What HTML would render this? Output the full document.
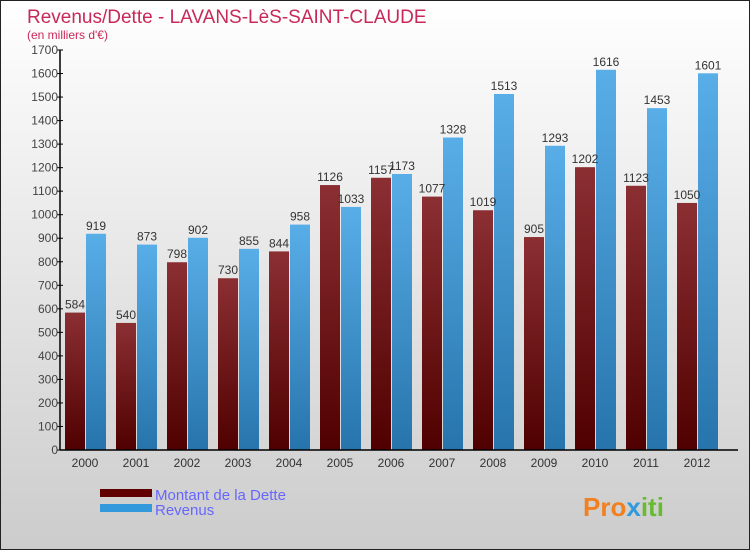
<!DOCTYPE html>
<html><head><meta charset="utf-8"><style>
body{margin:0}
#c{width:748px;height:548px;border:1px solid #222;position:relative;background:linear-gradient(#fff,#ccc);font-family:"Liberation Sans",sans-serif;overflow:hidden}
</style></head><body>
<div id="c">
<svg id="s" width="748" height="548" xmlns="http://www.w3.org/2000/svg">
<defs>
<linearGradient id="gd" x1="0" y1="0" x2="0" y2="1"><stop offset="0" stop-color="#8b2f33"/><stop offset="1" stop-color="#500000"/></linearGradient>
<linearGradient id="gr" x1="0" y1="0" x2="0" y2="1"><stop offset="0" stop-color="#59aee8"/><stop offset="1" stop-color="#2774ac"/></linearGradient>
</defs>
<text x="26" y="22" font-size="19" fill="#c8285a">Revenus/Dette - LAVANS-LèS-SAINT-CLAUDE</text>
<text x="26" y="38" font-size="12" fill="#c8285a">(en milliers d'€)</text>
<g id="bars"></g>
<g id="axes"></g>
<rect x="99" y="488" width="52" height="8" fill="#600000"/>
<rect x="99" y="503" width="52" height="8" fill="#3399dd"/>
<text x="154" y="499" font-size="15" fill="#6666ff">Montant de la Dette</text>
<text x="154" y="514" font-size="15" fill="#6666ff">Revenus</text>
<text x="582" y="515" font-size="26" font-weight="bold" fill="#f08020">Pro<tspan fill="#3399dd">x</tspan><tspan fill="#66bb33">iti</tspan></text>
</svg>
</div>
<script>
const categories=["2000","2001","2002","2003","2004","2005","2006","2007","2008","2009","2010","2011","2012"];
const dette=[584,540,798,730,844,1126,1157,1077,1019,905,1202,1123,1050];
const revenus=[919,873,902,855,958,1033,1173,1328,1513,1293,1616,1453,1601];
const yTicks=[0,100,200,300,400,500,600,700,800,900,1000,1100,1200,1300,1400,1500,1600,1700];
const NS="http://www.w3.org/2000/svg";
const y0=449,y1=49,ymax=1700,axX=59;
function y(v){return y0-(v/ymax)*(y0-y1);}
function cx(i){return 84+51*i;}
function mk(t,a,p){const e=document.createElementNS(NS,t);for(const k in a)e.setAttribute(k,a[k]);p.appendChild(e);return e;}
const bars=document.getElementById('bars'),axes=document.getElementById('axes');
categories.forEach((c,i)=>{
  const b1=mk('rect',{x:cx(i)-20,y:y(dette[i]),width:20,height:y0-y(dette[i]),fill:'url(#gd)'},bars);
  
  
  const b2=mk('rect',{x:cx(i)+1,y:y(revenus[i]),width:20,height:y0-y(revenus[i]),fill:'url(#gr)'},bars);
  
  
  const l1=mk('text',{x:cx(i)-10,y:y(dette[i])-4,'font-size':12,'text-anchor':'middle',fill:'#333'},bars);
  l1.textContent=dette[i];
  
  
  const l2=mk('text',{x:cx(i)+11,y:y(revenus[i])-4,'font-size':12,'text-anchor':'middle',fill:'#333'},bars);
  l2.textContent=revenus[i];
  
  
  const xl=mk('text',{x:cx(i),y:466,'font-size':12,'text-anchor':'middle',fill:'#333'},axes);
  xl.textContent=c;
  
  
});
mk('line',{x1:axX,y1:y1,x2:axX,y2:y0,stroke:'#000','stroke-width':1.5},axes);
mk('line',{x1:axX,y1:y0,x2:737,y2:y0,stroke:'#000','stroke-width':1.5},axes);
yTicks.forEach(v=>{
  mk('line',{x1:axX-3,y1:y(v),x2:axX+3,y2:y(v),stroke:'#000'},axes);
  const t=mk('text',{x:axX-2,y:y(v)+4,'font-size':12,'text-anchor':'end',fill:'#444'},axes);
  t.textContent=v;
  
  
});
</script>
</body></html>
